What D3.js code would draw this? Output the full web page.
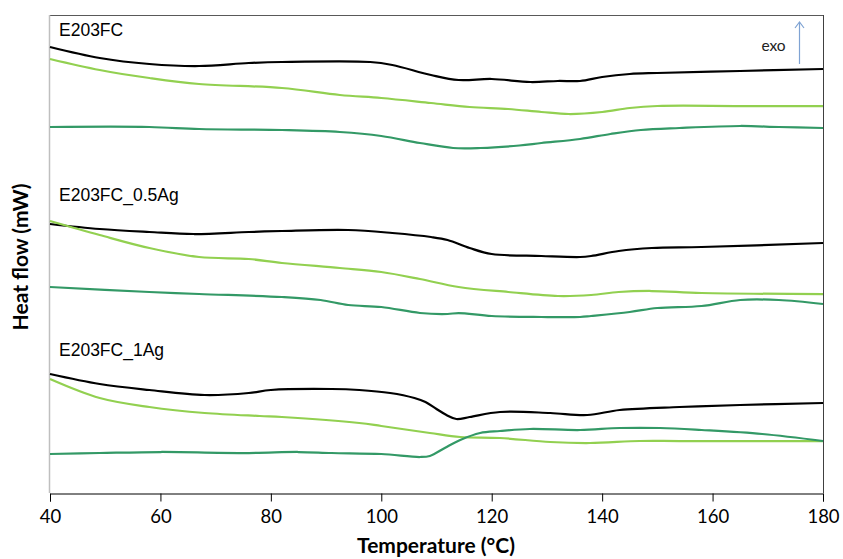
<!DOCTYPE html>
<html><head><meta charset="utf-8">
<script src="https://cdn.jsdelivr.net/npm/d3@7"></script>
<style>body{margin:0;background:#fff}svg{display:block}</style>
</head><body><svg id="c" width="843" height="559"></svg>
<script>
// Temperature (°C) and heat flow (arbitrary, stacked mW)
const xTicks = [40, 60, 80, 100, 120, 140, 160, 180];
const sampleLabels = ["E203FC", "E203FC_0.5Ag", "E203FC_1Ag"];

const t_black1 = [40, 49, 58, 67, 76, 82, 98, 102, 109, 114, 120, 127, 132, 136, 140, 145, 150, 165, 180];
const v_black1 = [8.92, 8.70, 8.58, 8.54, 8.60, 8.62, 8.62, 8.56, 8.36, 8.26, 8.28, 8.22, 8.24, 8.24, 8.32, 8.38, 8.40, 8.44, 8.48];
const t_light1 = [40, 49, 58, 67, 82, 92.5, 100, 109, 116, 123, 129, 134, 140, 145, 150, 165, 180];
const v_light1 = [8.68, 8.46, 8.30, 8.18, 8.10, 7.96, 7.90, 7.80, 7.72, 7.68, 7.62, 7.58, 7.62, 7.70, 7.74, 7.74, 7.74];
const t_dark1 = [40, 58, 67, 82, 92.5, 100, 107, 113, 118, 125, 129, 136, 141.5, 147, 154, 165, 172, 180];
const v_dark1 = [7.32, 7.32, 7.28, 7.26, 7.22, 7.14, 7.00, 6.90, 6.90, 6.95, 7.00, 7.08, 7.18, 7.26, 7.30, 7.34, 7.32, 7.30];

const t_black2 = [40, 49, 58, 66, 76, 82, 94, 102, 109, 112, 116, 120, 129, 136, 138, 143, 149, 158, 180];
const v_black2 = [5.38, 5.28, 5.22, 5.18, 5.22, 5.24, 5.26, 5.20, 5.12, 5.06, 4.90, 4.78, 4.74, 4.72, 4.74, 4.84, 4.90, 4.92, 5.00];
const t_light2 = [40, 49, 58, 67, 76, 82, 92.5, 100, 107, 114, 123, 132, 138, 143, 149, 158, 180];
const v_light2 = [5.44, 5.16, 4.90, 4.72, 4.68, 4.60, 4.50, 4.42, 4.28, 4.12, 4.02, 3.94, 3.96, 4.02, 4.04, 4.00, 3.98];
const t_dark2 = [40, 58, 67, 82, 89, 94, 100, 107, 112, 114, 120, 129, 136, 138, 145, 150, 158, 165, 172, 180];
const v_dark2 = [4.12, 4.02, 3.98, 3.92, 3.86, 3.76, 3.72, 3.60, 3.58, 3.60, 3.54, 3.52, 3.52, 3.54, 3.62, 3.70, 3.74, 3.86, 3.86, 3.78];

const t_black3 = [40, 49, 58, 68, 76, 80, 91, 96, 101.6, 106, 108, 110, 111.8, 113.6, 116, 121.5, 130.6, 137.3, 143.2, 154, 165, 180];
const v_black3 = [2.38, 2.18, 2.06, 1.96, 2.00, 2.06, 2.08, 2.06, 2.00, 1.90, 1.82, 1.68, 1.56, 1.48, 1.52, 1.62, 1.60, 1.56, 1.66, 1.72, 1.76, 1.80];
const t_light3 = [40, 49, 58, 68, 78, 82, 96, 100, 108.8, 114.3, 121.5, 130.6, 137.8, 146.8, 154, 180];
const v_light3 = [2.28, 1.90, 1.72, 1.60, 1.54, 1.52, 1.40, 1.34, 1.20, 1.12, 1.10, 1.02, 1.00, 1.04, 1.04, 1.04];
const t_dark3 = [40, 49, 60, 76, 85, 91, 100, 107, 108.8, 111.5, 114.3, 117.9, 121.5, 126.9, 136, 143.2, 150.5, 158, 169, 180];
const v_dark3 = [0.78, 0.80, 0.82, 0.80, 0.82, 0.80, 0.78, 0.72, 0.74, 0.90, 1.06, 1.20, 1.24, 1.28, 1.26, 1.30, 1.30, 1.26, 1.18, 1.04];

const colBlack = "#000000", colLight = "#92D050", colDark = "#339966";

const series = [
  {t: t_black1, v: v_black1, c: colBlack}, {t: t_light1, v: v_light1, c: colLight}, {t: t_dark1, v: v_dark1, c: colDark},
  {t: t_black2, v: v_black2, c: colBlack}, {t: t_light2, v: v_light2, c: colLight}, {t: t_dark2, v: v_dark2, c: colDark},
  {t: t_black3, v: v_black3, c: colBlack}, {t: t_light3, v: v_light3, c: colLight}, {t: t_dark3, v: v_dark3, c: colDark}
];
const labelValues = [9.15, 5.84, 2.74];

const svg = d3.select("#c");
const L = 50, R = 823, T = 15, B = 493;
const x = d3.scaleLinear().domain([40, 180]).range([L, R]);
const y = d3.scaleLinear().domain([0, 9.56]).range([B, T]);

// frame
svg.append("line").attr("x1", L).attr("x2", R).attr("y1", T + 0.5).attr("y2", T + 0.5).attr("stroke", "#595959").attr("stroke-width", 1);
svg.append("line").attr("x1", R + 0.5).attr("x2", R + 0.5).attr("y1", T).attr("y2", B).attr("stroke", "#404040").attr("stroke-width", 1);
svg.append("line").attr("x1", L - 0.5).attr("x2", L - 0.5).attr("y1", T).attr("y2", B).attr("stroke", "#BFBFBF").attr("stroke-width", 1.5);

const line = d3.line().x((d) => x(d[0])).y((d) => y(d[1])).curve(d3.curveCatmullRom.alpha(0.5));
series.forEach((s) => {
  svg.append("path").datum(s.t.map((t, i) => [t, s.v[i]]))
    .attr("d", line).attr("fill", "none").attr("stroke", s.c).attr("stroke-width", 2.25)
    .attr("stroke-linejoin", "round");
});

// x axis
const xAxis = svg.append("g").attr("transform", `translate(0,${B + 0.5})`)
  .call(d3.axisBottom(x).tickValues(xTicks).tickSize(8).tickPadding(8).tickFormat(d3.format("d")));
xAxis.select(".domain").attr("stroke", "#000").attr("stroke-width", 1);
xAxis.selectAll(".tick line").attr("stroke", "#000");
xAxis.selectAll("text").attr("font-family", "Lato, 'Open Sans', sans-serif").attr("font-size", 18.5).attr("fill", "#000");

svg.append("text").attr("x", 436).attr("y", 553).attr("text-anchor", "middle")
  .attr("font-family", "Lato, 'Open Sans', sans-serif").attr("font-weight", "bold").attr("font-size", 21)
  .text("Temperature (°C)");
svg.append("text").attr("transform", "translate(28,257) rotate(-90)").attr("text-anchor", "middle")
  .attr("font-family", "Lato, 'Open Sans', sans-serif").attr("font-weight", "bold").attr("font-size", 21)
  .text("Heat flow (mW)");

sampleLabels.forEach((lab, i) => {
  svg.append("text").attr("x", 59).attr("y", y(labelValues[i])).attr("font-family", "'Liberation Sans', Arial, sans-serif")
    .attr("font-size", 17.5).attr("fill", "#000").text(lab);
});

// exo arrow
svg.append("text").attr("x", 773.5).attr("y", 51).attr("text-anchor", "middle")
  .attr("font-family", "Lato, 'Open Sans', sans-serif").attr("font-size", 15.5).attr("fill", "#222").text("exo");
svg.append("line").attr("x1", 799.5).attr("x2", 799.5).attr("y1", 64).attr("y2", 23).attr("stroke", "#7FA3D3").attr("stroke-width", 1.2);
svg.append("path").attr("d", "M795,28 L799.5,22 L804,28").attr("fill", "none").attr("stroke", "#7FA3D3").attr("stroke-width", 1.2);
</script></body></html>
